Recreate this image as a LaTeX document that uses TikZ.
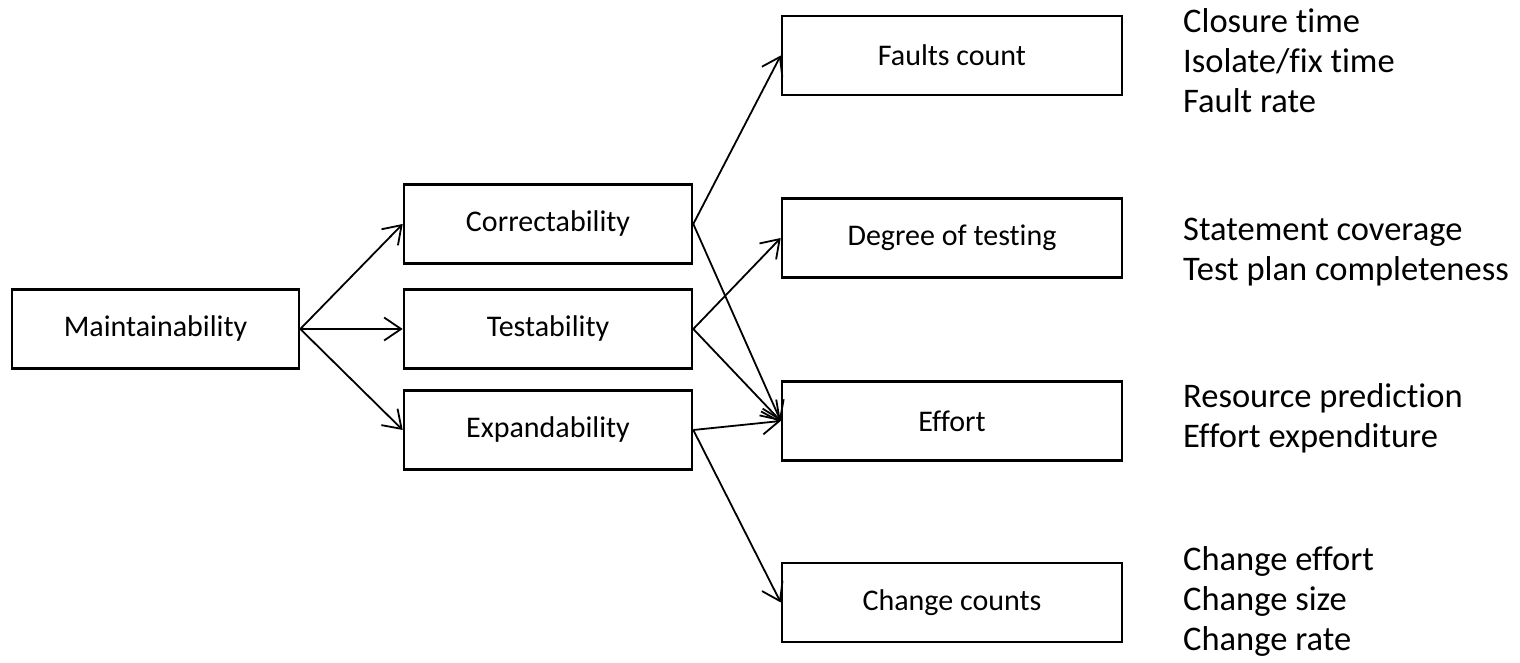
\documentclass[tikz,border=0pt]{standalone}
\usepackage{fontspec}
\setmainfont{Carlito}[Ligatures={NoCommon,NoContextual}]
\usetikzlibrary{arrows.meta}

\begin{document}
\begin{tikzpicture}[x=1pt,y=1pt,
	box/.style={draw, line width=2.6pt, minimum height=79pt, inner sep=0pt, font=\fontsize{30}{36}\selectfont},
	leftbox/.style={box, minimum width=288pt},
	rightbox/.style={box, minimum width=340pt},
	metric/.style={anchor=west, align=left, inner sep=0pt, font=\fontsize{34.5}{40}\selectfont},
	link/.style={line width=1.8pt, -{Straight Barb[length=17pt, width=23pt]}}]

	% Frame of the page
	\useasboundingbox (0,0) rectangle (1520,663);

	% Root box
	\node[box, minimum width=287pt] (maint) at (155.5,334) {Maintainability};

	% Factors
	\node[leftbox] (corr) at (548,439) {Correctability};
	\node[leftbox] (test) at (548,334) {Testability};
	\node[leftbox] (expa) at (548,233) {Expandability};

	% Criteria
	\node[rightbox] (faults) at (952,607.5) {Faults count};
	\node[rightbox] (degree) at (952,425) {Degree of testing};
	\node[rightbox] (effort) at (952,242) {Effort};
	\node[rightbox] (change) at (952,60.5) {Change counts};

	% Metrics next to each criterion
	\node[metric] (mfaults) at (1183,602) {Closure time\\Isolate/fix time\\Fault rate};
	\node[metric] (mdegree) at (1183,411) {Statement coverage\\Test plan completeness};
	\node[metric] (meffort) at (1183,244.5) {Resource prediction\\Effort expenditure};
	\node[metric] (mchange) at (1183,62) {Change effort\\Change size\\Change rate};

	% Root to factors
	\draw[link] (maint.east) -- (corr.west);
	\draw[link] (maint.east) -- (test.west);
	\draw[link] (maint.east) -- (expa.west);

	% Correctability
	\draw[link] (corr.east) -- (faults.west);
	\draw[link] (corr.east) -- (effort.west);

	% Testability
	\draw[link] (test.east) -- (degree.west);
	\draw[link] (test.east) -- (effort.west);

	% Expandability
	\draw[link] (expa.east) -- (effort.west);
	\draw[link] (expa.east) -- (change.west);

\end{tikzpicture}
\end{document}
